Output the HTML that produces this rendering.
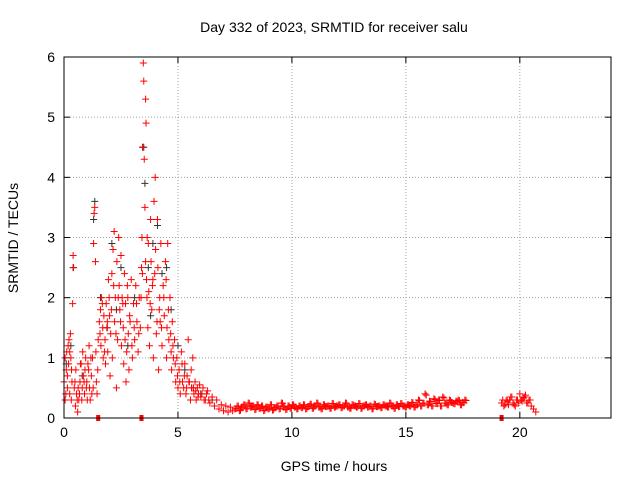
<!DOCTYPE html>
<html><head><meta charset="utf-8"><style>
body{margin:0;background:#fff;}
svg{display:block;font-family:"Liberation Sans",sans-serif;}
</style></head><body>
<svg id="chart" width="640" height="480" viewBox="0 0 640 480">
<rect width="640" height="480" fill="#fff"/>
<text x="334" y="32" font-size="14" text-anchor="middle">Day 332 of 2023, SRMTID for receiver salu</text>
<text x="334" y="471" font-size="14" text-anchor="middle">GPS time / hours</text>
<text x="18" y="238" font-size="14" text-anchor="middle" transform="rotate(-90 18 238)">SRMTID / TECUs</text>
<g id="grid"></g>
<g id="ticks"></g>
<g id="black"></g>
<g id="red"></g>
<rect x="64" y="57" width="547" height="361" fill="none" stroke="#000" stroke-width="1"/>
</svg>
<script>
const xTicks=[0,5,10,15,20];
const yTicks=[0,1,2,3,4,5,6];
const redT=[0,0.05,0.05,0.1,0.12,0.15,0.18,0.2,0.22,0.25,0.28,0.3,0.32,0.35,0.38,0.4,0.42,0.45,0.5,0.52,0.55,0.6,0.62,0.65,0.7,0.75,0.8,0.82,0.85,0.9,0.92,0.95,1.0,1.02,1.05,1.1,1.12,1.15,1.2,1.22,1.25,1.3,1.32,1.35,1.38,1.4,1.42,1.45,1.48,1.5,1.55,1.6,1.62,1.65,1.7,1.72,1.75,1.8,1.82,1.85,1.9,1.92,1.95,2.0,2.02,2.05,2.1,2.12,2.15,2.2,2.22,2.25,2.3,2.32,2.35,2.4,2.42,2.45,2.5,2.52,2.55,2.6,2.62,2.65,2.7,2.72,2.75,2.8,2.82,2.85,2.9,2.95,3.0,3.05,3.1,3.15,3.2,3.25,3.3,3.35,3.4,3.42,3.45,3.48,3.5,3.52,3.55,3.58,3.6,3.62,3.65,3.68,3.7,3.72,3.75,3.8,3.82,3.85,3.9,3.92,3.95,4.0,4.02,4.05,4.1,4.12,4.15,4.2,4.22,4.25,4.3,4.35,4.4,4.45,4.5,4.52,4.55,4.6,4.65,4.7,4.72,4.75,4.8,4.85,4.9,4.95,5.0,5.05,5.1,5.15,5.2,5.25,5.3,5.35,5.4,5.45,5.5,5.55,5.6,5.65,5.7,5.75,5.8,5.85,5.9,6.0,6.1,6.2,6.3,6.4,6.5,6.6,6.7,6.8,6.9,7.0,7.1,7.2,7.3,7.4,19.2,19.3,19.4,19.5,19.6,19.7,19.8,19.9,20.0,20.1,20.2,20.3,20.4,20.5,20.6,20.7];
const redV=[0.6,0.3,1.0,0.8,1.1,0.5,1.2,0.9,1.3,0.4,1.4,1.0,0.3,0.6,1.9,2.7,2.5,0.5,0.2,0.8,0.4,0.1,0.5,0.3,0.6,0.9,0.5,1.1,0.7,0.4,0.8,1.0,0.6,0.3,0.9,1.2,0.5,0.3,0.7,0.4,1.0,2.9,3.4,3.5,2.6,1.1,0.6,0.4,0.8,1.3,1.6,1.8,1.2,2.0,1.5,1.0,1.7,1.3,0.9,1.9,1.6,1.1,2.3,1.7,0.7,1.4,2.4,1.0,2.8,3.1,1.6,2.0,0.5,2.6,1.3,3.0,2.2,1.8,2.7,1.2,2.0,1.5,0.9,2.4,1.9,0.6,1.1,2.0,1.4,0.8,1.6,2.3,1.0,1.9,1.3,2.2,1.6,1.1,2.0,1.5,2.5,3.0,4.5,5.9,5.6,4.3,3.5,5.3,4.9,2.3,3.0,1.5,2.9,2.1,1.2,3.3,2.6,1.8,2.3,1.0,3.6,4.0,2.8,1.4,3.3,2.5,0.8,2.0,1.6,2.9,1.2,2.2,1.7,2.6,1.0,1.5,2.9,1.3,2.0,1.1,0.8,1.6,1.0,1.3,0.6,1.0,0.5,0.8,0.4,1.1,0.6,0.5,0.9,0.4,0.7,1.3,0.6,0.3,0.5,1.0,0.4,0.6,0.3,0.5,0.4,0.35,0.5,0.3,0.45,0.25,0.35,0.2,0.3,0.15,0.22,0.12,0.2,0.1,0.18,0.12,0.25,0.2,0.3,0.22,0.35,0.25,0.2,0.3,0.4,0.28,0.35,0.25,0.3,0.2,0.15,0.1];
const extraT=[0.08,0.15,0.25,0.33,0.48,0.58,0.68,0.72,0.78,0.88,0.98,1.08,1.18,1.28,1.58,1.68,1.78,1.88,1.98,2.08,2.18,2.28,2.38,2.48,2.58,2.68,2.78,2.88,2.98,3.08,3.18,3.28,3.38,3.44,3.58,3.64,3.78,3.88,3.98,4.08,4.18,4.28,4.38,4.48,4.58,4.68,4.78,4.88,4.98,5.08,5.18,5.28,5.38,5.48,5.58,5.68,5.78,5.88,5.95,6.05,6.15,6.25,6.35,19.25,19.35,19.45,19.55,19.65,19.75,19.85,19.95,20.05,20.15,20.25,20.35,20.45];
const extraV=[0.4,0.7,1.1,0.8,0.6,0.3,0.4,0.9,0.3,0.6,0.5,0.8,1.0,0.5,1.4,1.9,1.1,1.5,2.0,1.8,2.2,1.4,2.0,1.6,1.9,1.3,2.2,1.7,1.2,1.5,1.9,1.4,2.0,2.4,2.6,2.0,1.9,2.2,2.4,1.6,1.8,1.5,2.0,2.3,1.8,1.4,1.2,0.9,0.7,0.6,0.9,0.7,0.5,0.6,0.8,0.5,0.45,0.35,0.55,0.4,0.3,0.4,0.3,0.3,0.22,0.28,0.3,0.35,0.22,0.3,0.25,0.3,0.33,0.38,0.25,0.3];
const flatStart=7.5, flatStep=0.097;
const flatV=[0.15,0.2,0.12,0.18,0.22,0.15,0.25,0.18,0.2,0.14,0.22,0.16,0.2,0.12,0.18,0.15,0.22,0.13,0.17,0.2,0.15,0.25,0.18,0.14,0.2,0.16,0.22,0.18,0.15,0.2,0.17,0.22,0.15,0.19,0.23,0.16,0.2,0.25,0.18,0.15,0.22,0.19,0.2,0.16,0.24,0.18,0.2,0.22,0.17,0.2,0.25,0.18,0.16,0.22,0.2,0.18,0.24,0.16,0.2,0.22,0.18,0.2,0.15,0.23,0.19,0.2,0.17,0.22,0.2,0.18,0.25,0.2,0.16,0.22,0.19,0.24,0.2,0.18,0.22,0.2,0.26,0.18,0.22,0.3,0.2,0.25,0.4,0.22,0.28,0.2,0.32,0.24,0.3,0.2,0.35,0.25,0.22,0.3,0.26,0.24,0.28,0.3,0.22,0.26,0.3];
const blackT=[0.1,0.3,0.4,0.8,1.3,1.35,1.6,1.9,2.1,2.3,2.5,2.8,3.1,3.45,3.5,3.55,3.7,3.8,3.9,4.1,4.3,4.5,4.7,5.0,5.3,5.6,6.0,6.5];
const blackV=[0.9,1.2,2.5,0.7,3.3,3.6,2.0,1.5,2.9,1.8,2.5,1.2,2.0,4.5,4.5,3.9,2.5,1.7,2.9,3.2,2.4,2.5,1.8,1.2,0.8,0.5,0.4,0.3];
const redSqT=[1.5,3.4,19.2];
const redSqV=[0,0,0];
const X0=64,X1=611,Y0=418,Y1=57;
function xs(t){return X0+t/24*(X1-X0);}
function ys(v){return Y0-v/6*(Y0-Y1);}
const NS="http://www.w3.org/2000/svg";
const grid=document.getElementById('grid'),ticks=document.getElementById('ticks');
function mk(tag,attrs,parent){const e=document.createElementNS(NS,tag);for(const k in attrs)e.setAttribute(k,attrs[k]);parent.appendChild(e);return e;}
xTicks.forEach(t=>{const x=xs(t);
 if(t>0){const g=mk('line',{x1:x,x2:x,y1:Y0,y2:Y1,stroke:'#a0a0a0','stroke-dasharray':'1,2'},grid);
 
 }
 mk('line',{x1:x,x2:x,y1:Y0,y2:Y0-6,stroke:'#000'},ticks);
 mk('line',{x1:x,x2:x,y1:Y1,y2:Y1+6,stroke:'#000'},ticks);
 const l=mk('text',{x:x,y:Y0+19,'font-size':14,'text-anchor':'middle'},ticks);l.textContent=t;
 
 });
yTicks.forEach(v=>{const y=ys(v);
 if(v>0&&v<6){const g=mk('line',{x1:X0,x2:X1,y1:y,y2:y,stroke:'#a0a0a0','stroke-dasharray':'1,2'},grid);
 
 }
 mk('line',{x1:X0,x2:X0+6,y1:y,y2:y,stroke:'#000'},ticks);
 mk('line',{x1:X1,x2:X1-6,y1:y,y2:y,stroke:'#000'},ticks);
 const l=mk('text',{x:X0-9,y:y+5,'font-size':14,'text-anchor':'end'},ticks);l.textContent=v;
 
 });
function plus(g,t,v,col){const x=xs(t),y=ys(v);
 const p=mk('path',{d:`M${x-3.5} ${y}h7M${x} ${y-3.5}v7`,stroke:col,'stroke-width':1,fill:'none'},g);
 
 }
const bg=document.getElementById('black'),rg=document.getElementById('red');
blackT.forEach((t,i)=>plus(bg,t,blackV[i],'#333'));
redT.forEach((t,i)=>plus(rg,t,redV[i],'#f00'));
extraT.forEach((t,i)=>plus(rg,t,extraV[i],'#f00'));
flatV.forEach((v,i)=>{plus(rg,flatStart+i*flatStep,v,'#f00');plus(rg,flatStart+i*flatStep+0.05,v*0.9+0.02,'#f00');});
redSqT.forEach((t,i)=>{const r=mk('rect',{x:xs(t)-2,y:ys(redSqV[i])-3,width:4,height:6,fill:'#f00'},rg);
 
 });
</script>
</body></html>
